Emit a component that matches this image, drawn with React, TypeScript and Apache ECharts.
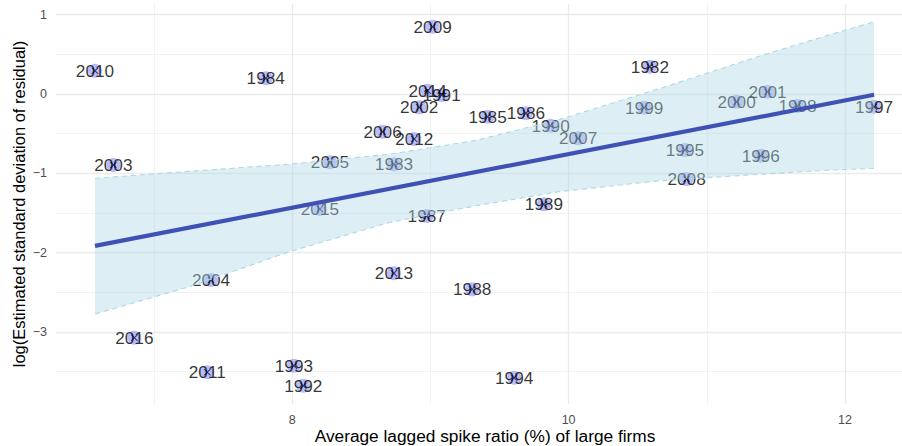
import React, { useEffect, useRef } from 'react';
import * as echarts from 'echarts';

const years = ['1982','1983','1984','1985','1986','1987','1988','1989','1990','1991','1992','1993','1994','1995','1996','1997','1998','1999','2000','2001','2002','2003','2004','2005','2006','2007','2008','2009','2010','2011','2012','2013','2014','2015','2016'];
const spikeRatio = [10.588, 8.736, 7.808, 9.414, 9.691, 8.973, 9.302, 9.821, 9.870, 9.081, 8.080, 8.012, 9.606, 10.842, 11.391, 12.211, 11.657, 10.547, 11.216, 11.440, 8.919, 6.705, 7.412, 8.273, 8.654, 10.069, 10.854, 9.016, 6.572, 7.385, 8.883, 8.736, 8.980, 8.200, 6.857];
const logResidSd = [0.344, -0.887, 0.198, -0.286, -0.243, -1.538, -2.463, -1.391, -0.400, -0.013, -3.678, -3.426, -3.578, -0.706, -0.778, -0.160, -0.151, -0.173, -0.097, 0.029, -0.168, -0.895, -2.346, -0.861, -0.475, -0.559, -1.072, 0.849, 0.294, -3.509, -0.567, -2.261, 0.042, -1.450, -3.073];

const fitX = [6.572, 12.211];
const fitY = [-1.915, -0.010];

const bandX = [6.572, 7.255, 7.978, 8.702, 9.329, 9.937, 10.661, 11.385, 11.867, 12.211];
const bandUpper = [-1.063, -0.975, -0.885, -0.760, -0.585, -0.320, 0.070, 0.480, 0.735, 0.912];
const bandLower = [-2.774, -2.430, -1.989, -1.620, -1.410, -1.230, -1.093, -1.013, -0.962, -0.937];

const xTicks = [8, 10, 12];
const yTicks = [-3, -2, -1, 0, 1];
const xMinor = [7, 9, 11];
const yMinor = [-3.5, -2.5, -1.5, -0.5, 0.5];

const FONT = '"Liberation Sans", Arial, Helvetica, sans-serif';

export default function App() {
  const ref = useRef<HTMLDivElement>(null);
  useEffect(() => {
    if (!ref.current) return;
    const chart = echarts.init(ref.current, undefined, { renderer: 'svg' });
    const points = spikeRatio.map((x, i) => [x, logResidSd[i]]);
    const major = { color: '#ebebeb', width: 1.3, type: 'solid' };
    const minor = { color: '#f1f1f1', width: 0.9, type: 'solid' };
    const gridLines = [
      ...xMinor.map((v) => ({ xAxis: v, lineStyle: minor })),
      ...yMinor.map((v) => ({ yAxis: v, lineStyle: minor })),
      ...xTicks.map((v) => ({ xAxis: v, lineStyle: major })),
      ...yTicks.map((v) => ({ yAxis: v, lineStyle: major })),
    ];
    chart.setOption({
      animation: false,
      textStyle: { fontFamily: FONT },
      grid: {
        left: 56,
        right: 0,
        top: 4,
        bottom: 42,
        containLabel: false,
        outerBoundsMode: 'none',
      },
      xAxis: {
        type: 'value',
        min: 6.29,
        max: 12.5,
        axisLine: { show: false },
        axisTick: { show: false },
        splitLine: { show: false },
        axisLabel: {
          customValues: xTicks,
          color: '#4d4d4d',
          fontSize: 12.5,
          margin: 9,
          fontFamily: FONT,
        },
        name: 'Average lagged spike ratio (%) of large firms',
        nameLocation: 'middle',
        nameMoveOverlap: false,
        nameGap: 23,
        nameTextStyle: { color: '#000', fontSize: 17.3, fontFamily: FONT },
      },
      yAxis: {
        type: 'value',
        min: -3.909,
        max: 1.135,
        axisLine: { show: false },
        axisTick: { show: false },
        splitLine: { show: false },
        axisLabel: {
          customValues: yTicks,
          color: '#4d4d4d',
          fontSize: 12.5,
          margin: 9,
          fontFamily: FONT,
          formatter: (v: number) => String(v).replace('-', '\u2212'),
        },
        name: 'log(Estimated standard deviation of residual)',
        nameLocation: 'middle',
        nameMoveOverlap: false,
        nameGap: 29,
        nameTextStyle: { color: '#000', fontSize: 16.5, fontFamily: FONT },
      },
      series: [
        {
          type: 'scatter',
          data: [],
          z: 0,
          silent: true,
          markLine: {
            z: 0,
            silent: true,
            symbol: 'none',
            label: { show: false },
            emphasis: { disabled: true },
            data: gridLines,
          },
        },
        {
          type: 'scatter',
          data: points,
          symbol: 'circle',
          symbolSize: 14,
          itemStyle: { color: '#a6acf7' },
          z: 2,
          silent: true,
        },
        {
          type: 'scatter',
          data: points,
          symbol: 'path://M0,1L1,0L5,4L9,0L10,1L6,5L10,9L9,10L5,6L1,10L0,9L4,5Z',
          symbolSize: 7,
          itemStyle: { color: '#10104e' },
          z: 2,
          silent: true,
          label: {
            show: true,
            position: 'inside',
            formatter: (p: any) => years[p.dataIndex],
            color: '#000',
            fontSize: 17.2,
            fontFamily: FONT,
          },
        },
        {
          type: 'custom',
          z: 5,
          silent: true,
          data: bandX.map((x, i) => [x, bandUpper[i], bandLower[i]]),
          encode: { x: 0, y: [1, 2] },
          renderItem: (params: any, api: any) => {
            if (params.dataIndex !== 0) return null;
            const up = bandX.map((x, i) => api.coord([x, bandUpper[i]]));
            const lo = bandX.map((x, i) => api.coord([x, bandLower[i]])).reverse();
            return {
              type: 'polygon',
              shape: { points: up.concat(lo) },
              style: { fill: 'rgba(173,216,230,0.42)' },
            };
          },
        },
        {
          type: 'line',
          data: bandX.map((x, i) => [x, bandUpper[i]]),
          showSymbol: false,
          z: 6,
          silent: true,
          lineStyle: { color: '#add8e6', width: 1.1, type: [5, 4] },
        },
        {
          type: 'line',
          data: bandX.map((x, i) => [x, bandLower[i]]),
          showSymbol: false,
          z: 6,
          silent: true,
          lineStyle: { color: '#add8e6', width: 1.1, type: [5, 4] },
        },
        {
          type: 'line',
          data: fitX.map((x, i) => [x, fitY[i]]),
          showSymbol: false,
          z: 8,
          silent: true,
          lineStyle: { color: '#3f51b5', width: 4.2 },
        },
      ],
    });
    return () => chart.dispose();
  }, []);
  return (
    <div
      style={{
        position: 'absolute',
        left: 0,
        top: 0,
        width: 902,
        height: 446,
        overflow: 'hidden',
      }}
    >
      <div ref={ref} style={{ width: 914, height: 446 }} />
    </div>
  );
}
